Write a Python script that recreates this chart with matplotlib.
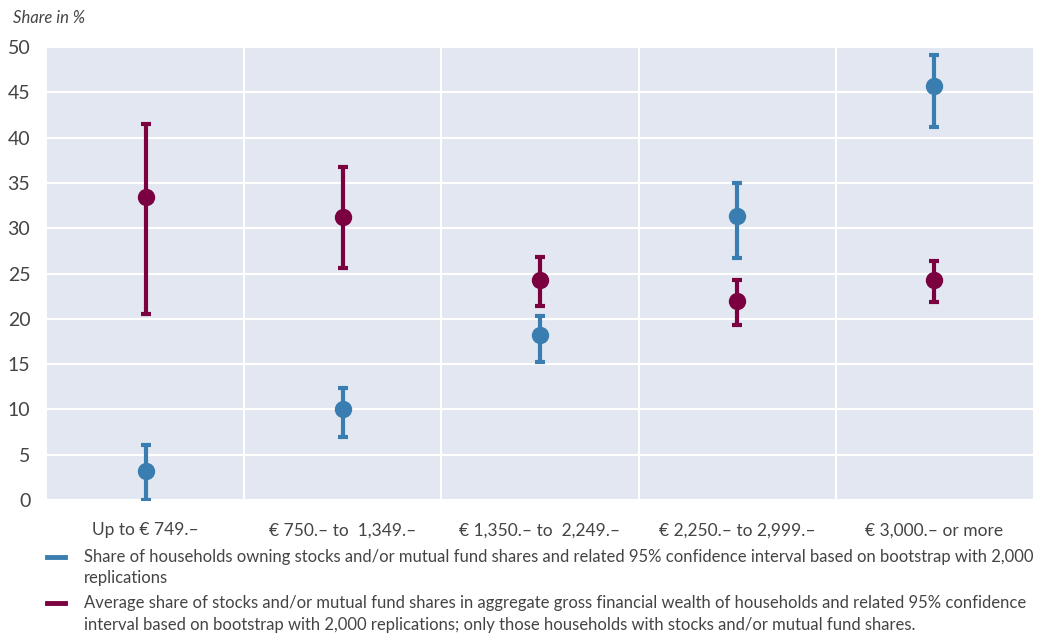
import matplotlib
matplotlib.use("Agg")
import matplotlib.pyplot as plt
from matplotlib.lines import Line2D

categories = ["Up to € 749.–", "€ 750.– to  1,349.–", "€ 1,350.– to  2,249.–",
              "€ 2,250.– to 2,999.–", "€ 3,000.– or more"]

# share of households owning stocks / fund shares (blue)
own_mid = [3.2, 10.0, 18.2, 31.3, 45.7]
own_low = [0.0, 7.0, 15.2, 26.7, 41.2]
own_high = [6.1, 12.4, 20.3, 35.0, 49.1]

# average share in gross financial wealth (red)
wealth_mid = [33.4, 31.2, 24.3, 22.0, 24.3]
wealth_low = [20.5, 25.6, 21.4, 19.3, 21.9]
wealth_high = [41.5, 36.8, 26.8, 24.3, 26.4]

legend_own = ("Share of households owning stocks and/or mutual fund shares and related 95% confidence interval based on bootstrap with 2,000\n"
              "replications")
legend_wealth = ("Average share of stocks and/or mutual fund shares in aggregate gross financial wealth of households and related 95% confidence\n"
                 "interval based on bootstrap with 2,000 replications; only those households with stocks and/or mutual fund shares.")

blue = "#3a7db0"
red = "#7a0040"
txt = "#444444"

plt.rcParams['font.family'] = ['Lato', 'DejaVu Sans']

fig = plt.figure(figsize=(10.44, 6.33), dpi=100)
ax = fig.add_axes([0.045, 0.210, 0.9445, 0.7157])
ax.set_facecolor("#e3e7f1")

x = list(range(len(categories)))

def draw(mid, low, high, color):
    err = [[m - l for m, l in zip(mid, low)], [h - m for m, h in zip(mid, high)]]
    ax.errorbar(x, mid, yerr=err, fmt='o', color=color, ecolor=color,
                markersize=11.5, elinewidth=3, capsize=3.5, capthick=3, zorder=3)

draw(wealth_mid, wealth_low, wealth_high, red)
draw(own_mid, own_low, own_high, blue)

ax.set_xlim(-0.5, 4.5)
ax.set_ylim(0, 50)
ax.set_yticks(range(0, 51, 5))
ax.set_xticks(x)
ax.set_xticklabels(categories)
ax.set_xticks([0.5, 1.5, 2.5, 3.5], minor=True)
ax.grid(True, axis='y', which='major', color='white', linewidth=1.5, zorder=0)
ax.grid(True, axis='x', which='minor', color='white', linewidth=1.5, zorder=0)
ax.set_axisbelow(True)
ax.tick_params(axis='both', which='both', length=0, colors=txt)
ax.tick_params(axis='y', labelsize=14, pad=12)
ax.tick_params(axis='x', labelsize=12.5, pad=16)
for s in ax.spines.values():
    s.set_visible(False)

fig.text(0.012, 0.972, "Share in %", fontsize=12, style='italic', color=txt, va='center')

# legend
fig.add_artist(Line2D([0.045, 0.062], [0.120, 0.120], color=blue, lw=3.5))
fig.text(0.080, 0.103, legend_own, fontsize=12, color=txt, va='center', linespacing=1.4)
fig.add_artist(Line2D([0.045, 0.062], [0.048, 0.048], color=red, lw=3.5))
fig.text(0.080, 0.030, legend_wealth, fontsize=12, color=txt, va='center', linespacing=1.4)

fig.savefig("out.png", dpi=100)
